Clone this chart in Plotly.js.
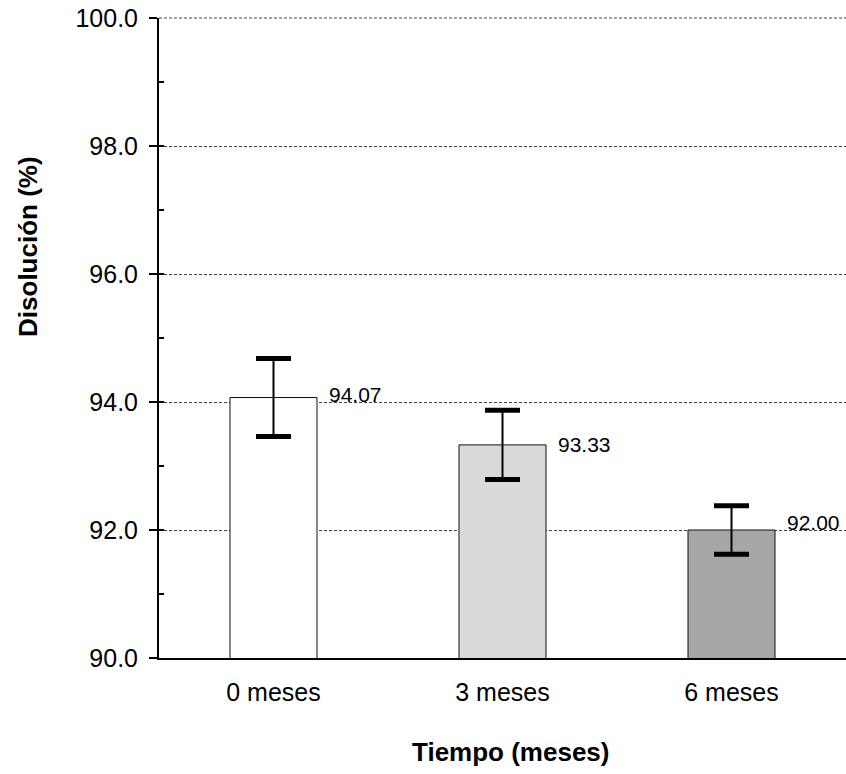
<!DOCTYPE html>
<html>
<head>
<meta charset="utf-8">
<script src="https://cdn.plot.ly/plotly-3.0.1.min.js"></script>
<style>html,body{margin:0;padding:0;background:#fff;}#chart{width:846px;height:774px;}</style>
</head>
<body>
<div id="chart"></div>
<script>
// ---- data ----
const categories = ["0 meses", "3 meses", "6 meses"];
const values = [94.07, 93.33, 92.00];
const errors = [0.61, 0.54, 0.38];
const barColors = ["#ffffff", "#d9d9d9", "#a6a6a6"];
const xTitle = "Tiempo (meses)";
const yTitle = "Disolución (%)";

// ---- style ----
const FONT = "Liberation Sans, Arial, sans-serif";
const labelYShift = [3, 0, 8];
const GRID = "#444";

const bars = {
  type: "bar",
  x: categories,
  y: values,
  width: 0.38,
  marker: {color: barColors, line: {color: "#111", width: 1}},
  error_y: {type: "data", array: errors, visible: true, color: "#000", thickness: 2, width: 0},
  hoverinfo: "none",
  showlegend: false
};

const capsUp = {
  type: "scatter", mode: "markers",
  x: categories,
  y: values.map((v, i) => v + errors[i]),
  marker: {symbol: "line-ew", size: 25, color: "#000", line: {color: "#000", width: 5}},
  hoverinfo: "none", showlegend: false, cliponaxis: false
};
const capsDown = {
  type: "scatter", mode: "markers",
  x: categories,
  y: values.map((v, i) => v - errors[i]),
  marker: {symbol: "line-ew", size: 25, color: "#000", line: {color: "#000", width: 5}},
  hoverinfo: "none", showlegend: false, cliponaxis: false
};
const dummy = {type: "scatter", x: [categories[0]], y: [95], yaxis: "y2", mode: "markers", marker: {opacity: 0}, hoverinfo: "none", showlegend: false};

const annotations = values.map((v, i) => ({
  x: i + 0.19, y: v, xref: "x", yref: "y",
  text: v.toFixed(2), showarrow: false,
  xanchor: "left", yanchor: "middle", xshift: 10, yshift: labelYShift[i],
  font: {family: FONT, size: 21, color: "#000"}
}));
annotations.push({
  x: -0.1907, y: 0.6438, xref: "paper", yref: "paper", text: "<b>" + yTitle + "</b>",
  textangle: -90, showarrow: false, xanchor: "center", yanchor: "middle",
  font: {family: FONT, size: 26, color: "#000"}
});
annotations.push({
  x: 0.512, y: -0.147, xref: "paper", yref: "paper", text: "<b>" + xTitle + "</b>",
  showarrow: false, xanchor: "center", yanchor: "middle",
  font: {family: FONT, size: 26, color: "#000"}
});

const layout = {
  width: 846, height: 774,
  margin: {l: 159, r: 0, t: 18, b: 116, pad: 0},
  paper_bgcolor: "#fff", plot_bgcolor: "#fff",
  font: {family: FONT, size: 25, color: "#000"},
  xaxis: {
    type: "category", range: [-0.5, 2.5], fixedrange: true,
    showline: true, linecolor: "#000", linewidth: 2,
    ticks: "", showgrid: false, zeroline: false,
    tickfont: {family: FONT, size: 25, color: "#000"},
    ticklabelstandoff: 11
  },
  yaxis: {
    range: [90, 100], dtick: 2, tick0: 90, tickformat: ".1f",
    showline: true, linecolor: "#000", linewidth: 2,
    ticks: "outside", ticklen: 8, tickwidth: 2, tickcolor: "#000",
    showgrid: true, gridcolor: GRID, gridwidth: 1, griddash: "3px,2px",
    zeroline: false, fixedrange: true,
    tickfont: {family: FONT, size: 25, color: "#000"},
    ticklabelstandoff: 6
  },
  yaxis2: {
    overlaying: "y", side: "left", range: [90, 100], dtick: 1, tick0: 90,
    ticks: "inside", ticklen: 5, tickwidth: 2, tickcolor: "#000",
    showticklabels: false, showgrid: false, showline: false, zeroline: false, fixedrange: true
  },
  shapes: [{
    type: "line", xref: "paper", yref: "paper", x0: 0, x1: 1, y0: 1, y1: 1,
    line: {color: GRID, width: 1, dash: "3px,2px"}, layer: "below"
  }],
  annotations: annotations,
  bargap: 0.62
};

Plotly.newPlot("chart", [bars, capsUp, capsDown, dummy], layout, {displayModeBar: false, staticPlot: true});
</script>
</body>
</html>
